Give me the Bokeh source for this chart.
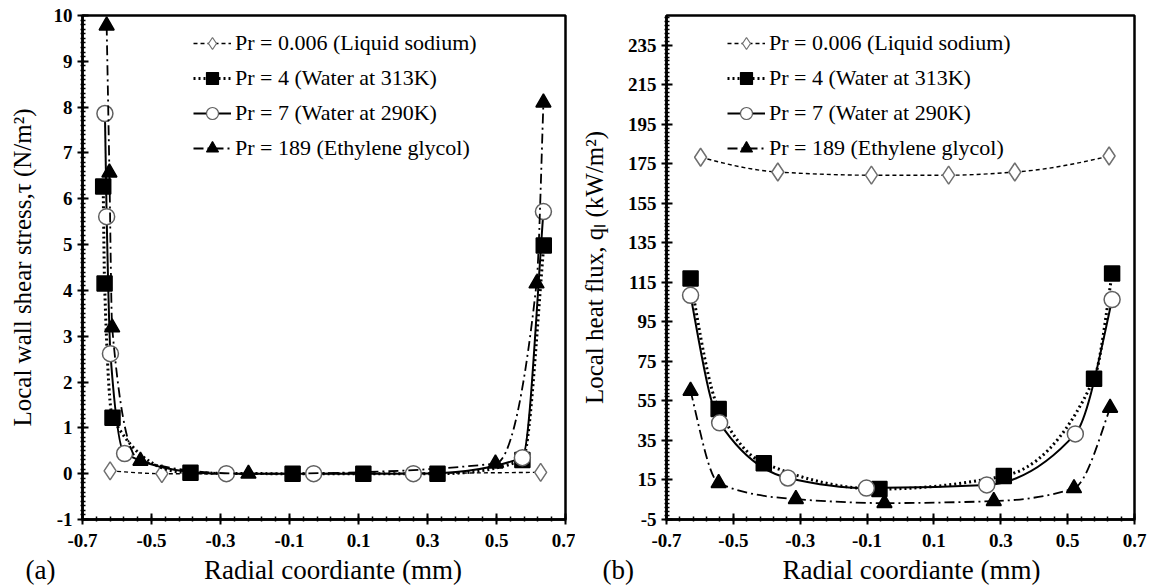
import numpy as np
from bokeh.plotting import figure
from bokeh.layouts import row
from bokeh.models import ColumnDataSource, FixedTicker, Legend, LegendItem, Title
from bokeh.embed import file_html
from bokeh.resources import INLINE

# ---------------- data ----------------
series_labels = ["Pr = 0.006 (Liquid sodium)", "Pr = 4 (Water at 313K)",
                 "Pr = 7 (Water at 290K)", "Pr = 189 (Ethylene glycol)"]

# (a) local wall shear stress, N/m^2
tau_x_na = [-0.620, -0.470, 0.628]
tau_na = [0.06, 0.0, 0.03]
tau_x_w313 = [-0.640, -0.636, -0.613, -0.387, -0.091, 0.114, 0.329, 0.575, 0.637]
tau_w313 = [6.27, 4.15, 1.22, 0.02, 0.0, 0.0, 0.0, 0.30, 4.98]
tau_x_w290 = [-0.635, -0.630, -0.619, -0.578, -0.283, -0.030, 0.259, 0.575, 0.636]
tau_w290 = [7.86, 5.61, 2.62, 0.44, 0.0, 0.0, 0.0, 0.35, 5.72]
tau_x_eg = [-0.630, -0.622, -0.614, -0.532, -0.219, 0.497, 0.616, 0.636]
tau_eg = [9.78, 6.57, 3.19, 0.28, 0.0, 0.22, 4.15, 8.10]

# (b) local heat flux, kW/m^2
q_x_na = [-0.598, -0.367, -0.087, 0.144, 0.342, 0.624]
q_na = [178.3, 170.8, 169.2, 169.2, 170.8, 178.9]
q_x_w313 = [-0.628, -0.544, -0.409, -0.063, 0.309, 0.579, 0.633]
q_w313 = [116.9, 50.9, 23.5, 10.4, 17.0, 66.2, 119.5]
q_x_w290 = [-0.628, -0.541, -0.337, -0.102, 0.258, 0.523, 0.633]
q_w290 = [108.4, 43.9, 16.0, 10.9, 12.5, 38.3, 106.3]
q_x_eg = [-0.628, -0.544, -0.313, -0.048, 0.279, 0.519, 0.627]
q_eg = [60.1, 13.4, 5.3, 3.3, 4.3, 10.8, 51.5]

x_ticks = [-0.7, -0.5, -0.3, -0.1, 0.1, 0.3, 0.5, 0.7]
tau_ticks = [-1, 0, 1, 2, 3, 4, 5, 6, 7, 8, 9, 10]
q_ticks = [-5, 15, 35, 55, 75, 95, 115, 135, 155, 175, 195, 215, 235]

x_title = "Radial coordiante (mm)"
SERIF = "Liberation Serif"
NBSP = "\u00a0"

# line / marker style per series
STYLES = [
    dict(dash="4 3", lw=1.4, marker="diamond", fill="white", mline="#707070", ms=18),
    dict(dash="2 3", lw=3.0, marker="square", fill="black", mline="black", ms=15),
    dict(dash="solid", lw=2.0, marker="circle", fill="white", mline="#606060", ms=16),
    dict(dash="10 4 2 4", lw=1.8, marker="triangle", fill="black", mline="black", ms=15),
]


def pchip_slopes(x, y):
    """Shape-preserving slopes (Fritsch-Carlson / PCHIP) at each point."""
    h = np.diff(x)
    d = np.diff(y) / h
    n = len(x)
    m = np.zeros(n)
    for k in range(1, n - 1):
        if d[k - 1] * d[k] > 0:
            w1 = 2 * h[k] + h[k - 1]
            w2 = h[k] + 2 * h[k - 1]
            m[k] = (w1 + w2) / (w1 / d[k - 1] + w2 / d[k])
    for k, (hh0, hh1, d0, d1) in ((0, (h[0], h[1], d[0], d[1])),
                                  (n - 1, (h[-1], h[-2], d[-1], d[-2]))):
        e = ((2 * hh0 + hh1) * d0 - hh0 * d1) / (hh0 + hh1)
        if np.sign(e) != np.sign(d0):
            e = 0.0
        elif np.sign(d0) != np.sign(d1) and abs(e) > abs(3 * d0):
            e = 3 * d0
        m[k] = e
    return m


def smooth_segments(xs, ys):
    """Cubic Bezier pieces of a shape-preserving curve through the points."""
    x = np.asarray(xs, float)
    y = np.asarray(ys, float)
    m = pchip_slopes(x, y)
    h = np.diff(x)
    return dict(x0=x[:-1], y0=y[:-1], x1=x[1:], y1=y[1:],
                cx0=x[:-1] + h / 3, cy0=y[:-1] + m[:-1] * h / 3,
                cx1=x[1:] - h / 3, cy1=y[1:] - m[1:] * h / 3)


def make_panel(series, yticks, yminor, yrange, ylabel, letter, width,
               border_left, border_right, legend_xy, ylabel_standoff,
               letter_offset, gap):
    p = figure(width=width, height=587, x_range=(-0.7, 0.7), y_range=yrange,
               output_backend="svg", toolbar_location=None,
               min_border_left=border_left, min_border_right=border_right,
               min_border_top=15, min_border_bottom=0)
    p.grid.visible = False
    p.outline_line_color = "black"
    p.outline_line_width = 2.5
    p.background_fill_color = "white"
    p.border_fill_color = "white"

    for ax in (p.xaxis[0], p.yaxis[0]):
        ax.axis_line_width = 2.5
        ax.major_tick_line_width = 2
        ax.minor_tick_line_width = 1.5
        ax.major_tick_in = 6
        ax.major_tick_out = 5
        ax.minor_tick_in = 3
        ax.minor_tick_out = 2
        ax.major_label_text_font = SERIF
        ax.major_label_text_font_style = "bold"
        ax.major_label_text_font_size = "19px"
        ax.major_label_text_color = "black"
        ax.axis_label_text_font = SERIF
        ax.axis_label_text_font_style = "normal"
        ax.axis_label_text_color = "black"

    p.xaxis.ticker = FixedTicker(ticks=x_ticks,
                                 minor_ticks=list(np.round(np.arange(-0.7, 0.7001, 0.04), 3)))
    p.xaxis.major_label_overrides = {t: f"{t:.1f}" for t in x_ticks}
    p.xaxis.major_label_standoff = 9

    # panel letter and x title share one line under the axis
    p.add_layout(Title(text=letter + NBSP * gap + x_title, align="left",
                       offset=letter_offset, text_font=SERIF, text_font_size="27px",
                       text_font_style="normal", text_color="black", standoff=6),
                 "below")

    p.yaxis.ticker = FixedTicker(ticks=yticks, minor_ticks=yminor)
    p.yaxis.major_label_overrides = {t: str(t) for t in yticks}
    p.yaxis.major_label_standoff = 5
    p.yaxis.axis_label = ylabel
    p.yaxis.axis_label_text_font_size = "25px"
    p.yaxis.axis_label_standoff = ylabel_standoff

    items = []
    for (xs, ys), st, lab in zip(series, STYLES, series_labels):
        src = ColumnDataSource(smooth_segments(xs, ys))
        p.bezier(x0="x0", y0="y0", x1="x1", y1="y1", cx0="cx0", cy0="cy0",
                 cx1="cx1", cy1="cy1", source=src, line_color="black",
                 line_width=st["lw"], line_dash=st["dash"])
        p.scatter(xs, ys, marker=st["marker"], size=st["ms"], fill_color=st["fill"],
                  line_color=st["mline"], line_width=1.5)
        # legend swatches (no visible data)
        lr = p.line([np.nan, np.nan], [np.nan, np.nan], line_color="black",
                    line_width=st["lw"], line_dash=st["dash"])
        sr = p.scatter([np.nan], [np.nan], marker=st["marker"], size=st["ms"] * 0.72,
                       fill_color=st["fill"], line_color=st["mline"], line_width=1.2)
        items.append(LegendItem(label=lab, renderers=[lr, sr]))

    legend = Legend(items=items, location=legend_xy, orientation="vertical",
                    border_line_color=None, background_fill_alpha=0,
                    label_text_font=SERIF, label_text_font_size="22px",
                    label_text_color="black", glyph_width=38, glyph_height=30,
                    label_height=30, spacing=5, padding=0, margin=0,
                    label_standoff=4)
    p.add_layout(legend, "center")
    return p


tau_minor = list(np.round(np.arange(-1, 10.0001, 0.1), 3))
q_minor = list(np.round(np.arange(-5, 250.001, 2), 3))

pa = make_panel(
    [(tau_x_na, tau_na), (tau_x_w313, tau_w313), (tau_x_w290, tau_w290), (tau_x_eg, tau_eg)],
    tau_ticks, tau_minor, (-1, 10), "Local wall shear stress,τ (N/m²)", "(a)",
    575, 82, 10, (111, 356), 15, -57, 22)
pb = make_panel(
    [(q_x_na, q_na), (q_x_w313, q_w313), (q_x_w290, q_w290), (q_x_eg, q_eg)],
    q_ticks, q_minor, (-5, 250), "Local heat flux, qₗ (kW/m²)", "(b)",
    574, 91, 15, (61, 356), 17, -64, 22)

layout = row(pa, pb)
open("out.html", "w").write(file_html(layout, INLINE))
